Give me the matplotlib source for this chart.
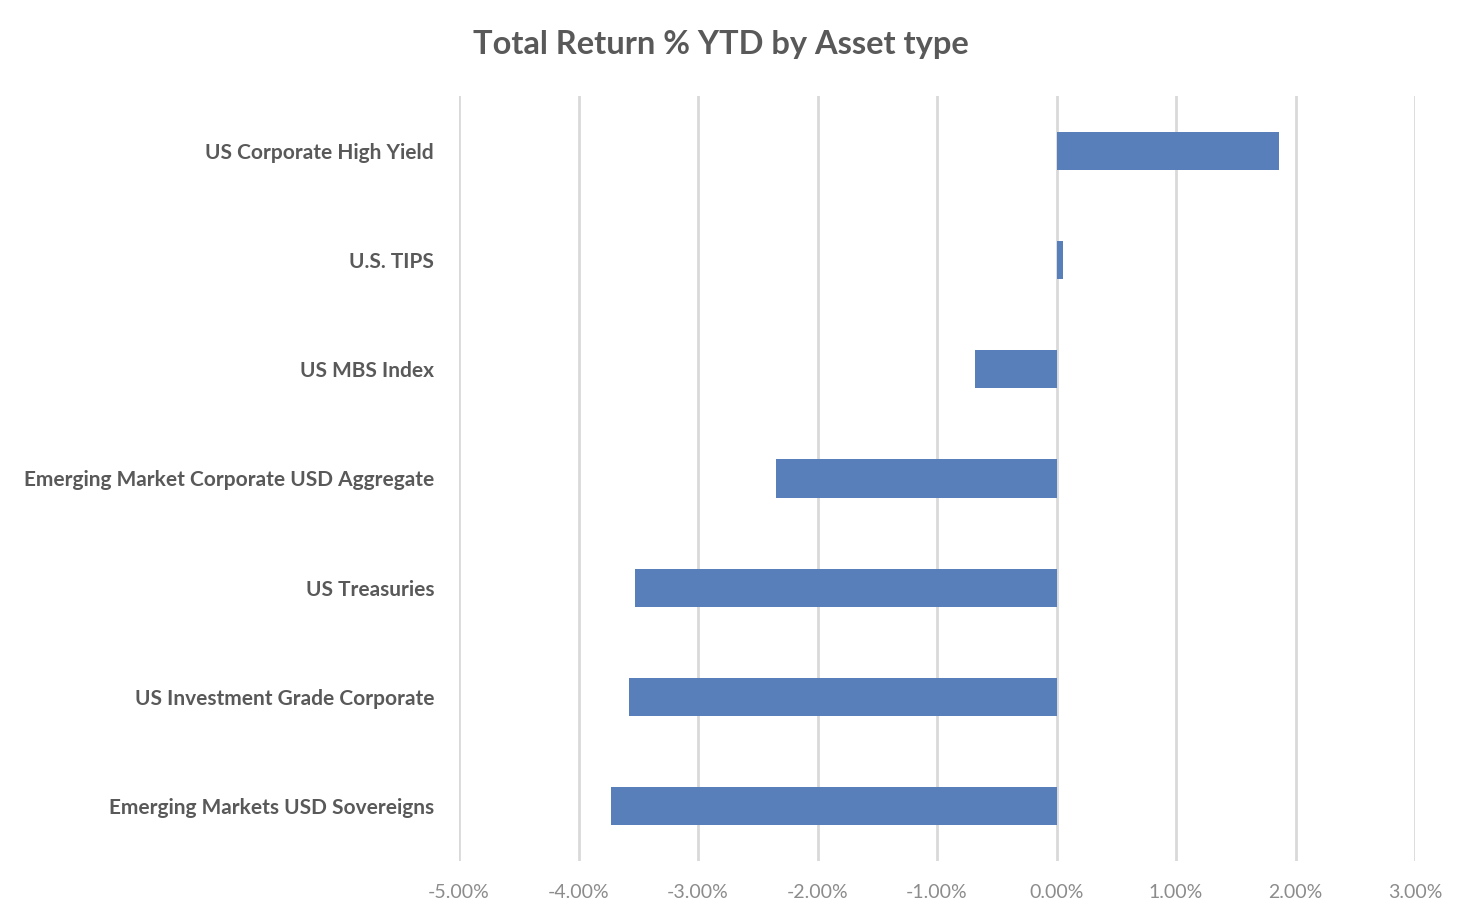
import matplotlib
matplotlib.use('Agg')
import matplotlib.pyplot as plt
from matplotlib.ticker import FuncFormatter

# Daten (von oben nach unten)
categories = ['US Corporate High Yield', 'U.S. TIPS', 'US MBS Index',
              'Emerging Market Corporate USD Aggregate', 'US Treasuries',
              'US Investment Grade Corporate', 'Emerging Markets USD Sovereigns']
returns = [1.86, 0.05, -0.68, -2.35, -3.53, -3.58, -3.73]
x_ticks = [-5, -4, -3, -2, -1, 0, 1, 2, 3]

plt.rcParams['font.family'] = ['Lato', 'DejaVu Sans']

fig = plt.figure(figsize=(14.6, 9.14), dpi=100)
ax = fig.add_axes([0.3144, 0.0585, 0.6548, 0.836])

y = list(range(len(categories)))
ax.barh(y, returns, height=0.35, color='#587fb9', zorder=3)

ax.set_ylim(len(categories) - 0.5, -0.5)
ax.set_xlim(-5, 3)
ax.set_yticks(y)
ax.set_yticklabels(categories, fontsize=15, color='#595959', fontweight='bold')
ax.set_xticks(x_ticks)
ax.xaxis.set_major_formatter(FuncFormatter(lambda v, p: f'{v:.2f}%'))
ax.tick_params(axis='x', labelsize=14, colors='#8c8c8c', length=0, pad=17)
ax.tick_params(axis='y', length=0, pad=18)

ax.grid(axis='x', color='#d9d9d9', linewidth=2, zorder=0)
for s in ax.spines.values():
    s.set_visible(False)

fig.text(0.494, 0.951, 'Total Return % YTD by Asset type', ha='center', va='center',
         fontsize=23.5, fontweight='bold', color='#595959')

fig.savefig('out.png', dpi=100)
